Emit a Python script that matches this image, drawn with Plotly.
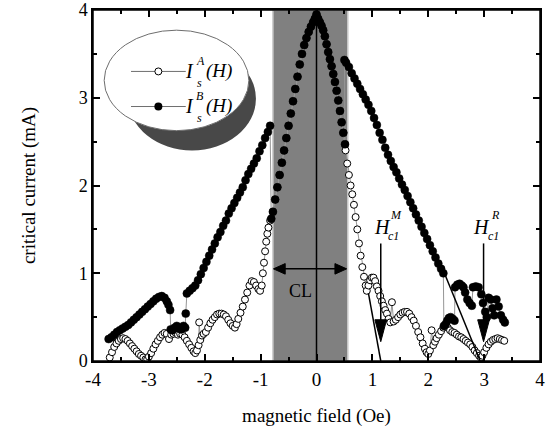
import plotly.graph_objects as go

# --- data ----------------------------------------------------------------
# shared part of both curves inside the CL band (I_s^A is hidden under I_s^B there)
peak_x = [-0.81, -0.78, -0.74, -0.70, -0.66, -0.62, -0.58, -0.54, -0.50, -0.46, -0.42,
          -0.38, -0.34, -0.30, -0.26, -0.22, -0.18, -0.14, -0.10, -0.06, -0.03, 0.00,
          0.03, 0.06, 0.09, 0.12, 0.15, 0.18, 0.21, 0.24, 0.27, 0.30, 0.33, 0.36, 0.39,
          0.42, 0.45, 0.48, 0.51]
peak_y = [1.62, 1.70, 1.84, 1.98, 2.12, 2.26, 2.40, 2.54, 2.68, 2.82, 2.96,
          3.10, 3.24, 3.38, 3.50, 3.60, 3.68, 3.75, 3.81, 3.86, 3.90, 3.95,
          3.90, 3.86, 3.82, 3.77, 3.70, 3.61, 3.52, 3.44, 3.36, 3.27, 3.18, 3.08, 2.97,
          2.85, 2.72, 2.60, 2.47]

a_left_x = [-3.70, -3.66, -3.62, -3.58, -3.54, -3.50, -3.46, -3.42, -3.38, -3.34, -3.30,
            -3.26, -3.22, -3.18, -3.14, -3.10, -3.06, -3.03, -3.00, -2.96, -2.92, -2.88,
            -2.84, -2.80, -2.76, -2.72, -2.68, -2.64, -2.60, -2.56, -2.52, -2.48, -2.44,
            -2.40, -2.36, -2.32, -2.28, -2.24, -2.20, -2.17, -2.14, -2.11, -2.10, -2.08,
            -2.05, -2.02, -1.98, -1.94, -1.90, -1.86, -1.82, -1.78, -1.74, -1.70, -1.66,
            -1.62, -1.58, -1.54, -1.50, -1.46, -1.43, -1.40, -1.36, -1.32, -1.28, -1.24,
            -1.20, -1.16, -1.12, -1.08, -1.04, -1.01, -0.98, -0.96, -0.94, -0.92, -0.90,
            -0.88, -0.86, -0.83]
a_left_y = [0.04, 0.10, 0.16, 0.20, 0.23, 0.25, 0.26, 0.25, 0.23, 0.20, 0.17,
            0.14, 0.11, 0.08, 0.06, 0.04, 0.02, 0.02, 0.05, 0.09, 0.14, 0.19,
            0.23, 0.27, 0.30, 0.32, 0.31, 0.25, 0.30, 0.31, 0.32, 0.30, 0.31,
            0.30, 0.27, 0.23, 0.19, 0.15, 0.11, 0.09, 0.12, 0.18, 0.44, 0.24,
            0.29, 0.31, 0.33, 0.38, 0.43, 0.47, 0.50, 0.53, 0.54, 0.54, 0.53,
            0.51, 0.47, 0.43, 0.40, 0.38, 0.42, 0.48, 0.55, 0.62, 0.70, 0.78,
            0.86, 0.91, 0.90, 0.86, 0.82, 0.80, 0.86, 1.00, 1.12, 1.25, 1.36,
            1.45, 1.52, 1.60]
a_right_x = [0.52, 0.55, 0.58, 0.61, 0.64, 0.67, 0.70, 0.73, 0.76, 0.79, 0.82, 0.85,
             0.88, 0.90, 0.93, 0.96, 0.99, 1.02, 1.05, 1.08, 1.11, 1.14, 1.17, 1.20,
             1.23, 1.26, 1.29, 1.32, 1.35, 1.38, 1.42, 1.46, 1.50, 1.54, 1.58, 1.62,
             1.66, 1.70, 1.74, 1.78, 1.82, 1.86, 1.90, 1.94, 1.97, 2.00, 2.03, 2.06,
             2.09, 2.12, 2.15, 2.19, 2.23, 2.27, 2.31, 2.35, 2.39, 2.43, 2.47, 2.51,
             2.55, 2.59, 2.63, 2.67, 2.71, 2.75, 2.79, 2.83, 2.87, 2.91, 2.94, 2.97,
             3.00, 3.04, 3.08, 3.12, 3.16, 3.20, 3.24, 3.28, 3.32, 3.36]
a_right_y = [2.40, 2.25, 2.12, 2.00, 1.90, 1.78, 1.64, 1.50, 1.34, 1.20, 1.07, 0.96,
             0.86, 0.80, 0.86, 0.92, 0.95, 0.95, 0.91, 0.85, 0.80, 0.74, 0.68, 0.63,
             0.58, 0.54, 0.48, 0.44, 0.67, 0.45, 0.47, 0.50, 0.53, 0.55, 0.56, 0.56,
             0.54, 0.50, 0.46, 0.40, 0.33, 0.27, 0.20, 0.14, 0.10, 0.08, 0.12, 0.35,
             0.18, 0.22, 0.26, 0.30, 0.34, 0.38, 0.40, 0.38, 0.35, 0.33, 0.32, 0.30,
             0.28, 0.27, 0.25, 0.23, 0.21, 0.19, 0.16, 0.12, 0.09, 0.06, 0.04, 0.06,
             0.10, 0.15, 0.19, 0.22, 0.24, 0.25, 0.26, 0.25, 0.24, 0.23]

b_left_x = [-3.72, -3.67, -3.62, -3.57, -3.52, -3.47, -3.42, -3.37, -3.32, -3.27, -3.22,
            -3.17, -3.12, -3.07, -3.02, -2.97, -2.92, -2.87, -2.82, -2.77, -2.72, -2.68,
            -2.65, -2.62, -2.61, -2.58, -2.54, -2.50, -2.46, -2.42, -2.38, -2.35, -2.34,
            -2.32, -2.27, -2.22, -2.17, -2.12, -2.07, -2.02, -1.97, -1.92, -1.87, -1.82,
            -1.77, -1.72, -1.67, -1.62, -1.57, -1.52, -1.47, -1.42, -1.37, -1.32, -1.27,
            -1.22, -1.17, -1.12, -1.07, -1.02, -0.97, -0.92, -0.87, -0.83]
b_left_y = [0.25, 0.27, 0.30, 0.33, 0.35, 0.37, 0.39, 0.41, 0.44, 0.47, 0.50,
            0.53, 0.56, 0.59, 0.62, 0.65, 0.68, 0.71, 0.73, 0.74, 0.72, 0.68,
            0.64, 0.58, 0.36, 0.35, 0.38, 0.40, 0.37, 0.36, 0.40, 0.38, 0.54,
            0.77, 0.80, 0.83, 0.86, 0.92, 0.99, 1.06, 1.13, 1.20, 1.27, 1.34,
            1.41, 1.47, 1.54, 1.60, 1.68, 1.74, 1.80, 1.86, 1.92, 1.98, 2.06,
            2.13, 2.19, 2.25, 2.31, 2.39, 2.46, 2.54, 2.61, 2.68]
b_right_x = [0.50, 0.53, 0.58, 0.63, 0.68, 0.73, 0.78, 0.83, 0.88, 0.93, 0.98, 1.03,
             1.08, 1.13, 1.18, 1.23, 1.28, 1.33, 1.38, 1.43, 1.48, 1.53, 1.58, 1.63,
             1.68, 1.73, 1.78, 1.83, 1.88, 1.93, 1.98, 2.03, 2.08, 2.13, 2.18, 2.23,
             2.27, 2.28, 2.31, 2.34, 2.37, 2.40, 2.44, 2.47, 2.48, 2.52, 2.56, 2.60,
             2.63, 2.66, 2.70, 2.74, 2.78, 2.80, 2.85, 2.90, 2.95, 2.98, 3.02, 3.05,
             3.08, 3.12, 3.15, 3.18, 3.22, 3.26, 3.30, 3.34, 3.37]
b_right_y = [3.43, 3.40, 3.35, 3.28, 3.22, 3.16, 3.10, 3.04, 2.98, 2.92, 2.85, 2.77,
             2.69, 2.60, 2.52, 2.43, 2.35, 2.28, 2.21, 2.15, 2.08, 2.01, 1.95, 1.88,
             1.81, 1.74, 1.67, 1.60, 1.53, 1.46, 1.39, 1.32, 1.25, 1.18, 1.11, 1.05,
             1.00, 0.40, 0.42, 0.46, 0.49, 0.50, 0.48, 0.46, 0.84, 0.87, 0.88, 0.86,
             0.84, 0.78, 0.70, 0.66, 0.63, 0.84, 0.85, 0.84, 0.76, 0.66, 0.56, 0.50,
             0.72, 0.70, 0.60, 0.52, 0.70, 0.62, 0.52, 0.47, 0.44]

a_x = a_left_x + peak_x + a_right_x
a_y = a_left_y + peak_y + a_right_y
b_x = b_left_x + peak_x + b_right_x
b_y = b_left_y + peak_y + b_right_y

# CL band and the two H_c1 fits / arrows
band = [-0.78, 0.56]
fit_m = ([0.93, 1.15], [0.77, 0.0])
fit_r = ([2.29, 2.93], [1.0, 0.0])
arrow_x = [1.15, 2.99]

x_ticks = [-4, -3, -2, -1, 0, 1, 2, 3, 4]
y_ticks = [0, 1, 2, 3, 4]

serif = "Liberation Serif"

fig = go.Figure()

fig.add_trace(go.Scatter(x=a_x, y=a_y, mode='lines+markers', showlegend=False,
                         line=dict(color='rgb(150,150,150)', width=1),
                         marker=dict(symbol='circle', size=7, color='white',
                                     line=dict(color='black', width=1))))
fig.add_trace(go.Scatter(x=b_x, y=b_y, mode='lines+markers', showlegend=False,
                         line=dict(color='rgb(150,150,150)', width=1),
                         marker=dict(symbol='circle', size=8, color='black',
                                     line=dict(color='black', width=0.5))))

# legend samples
fig.add_trace(go.Scatter(x=[-3.32, -2.83, -2.34], y=[3.30] * 3, mode='lines', showlegend=False,
                         line=dict(color='rgb(110,110,110)', width=1)))
fig.add_trace(go.Scatter(x=[-2.83], y=[3.30], mode='markers', showlegend=False,
                         marker=dict(size=7, color='white', line=dict(color='black', width=1))))
fig.add_trace(go.Scatter(x=[-3.32, -2.83, -2.34], y=[2.90] * 3, mode='lines', showlegend=False,
                         line=dict(color='rgb(110,110,110)', width=1)))
fig.add_trace(go.Scatter(x=[-2.83], y=[2.90], mode='markers', showlegend=False,
                         marker=dict(size=8, color='black')))

shapes = [
    dict(type='rect', x0=band[0], x1=band[1], y0=0, y1=4, layer='below',
         fillcolor='rgb(128,128,128)', line=dict(color='rgb(200,200,200)', width=1.5)),
    dict(type='line', x0=0, x1=0, y0=0, y1=4, layer='below',
         line=dict(color='black', width=1.5)),
    # legend disc: shadow then face
    dict(type='circle', x0=-3.37, x1=-1.084, y0=2.40, y1=3.58, layer='below',
         fillcolor='rgb(72,72,72)', line=dict(width=0)),
    dict(type='circle', x0=-3.80, x1=-1.21, y0=2.625, y1=3.77, layer='below',
         fillcolor='white', line=dict(color='rgb(110,110,110)', width=1)),
    # fit lines
    dict(type='line', x0=fit_m[0][0], x1=fit_m[0][1], y0=fit_m[1][0], y1=fit_m[1][1],
         line=dict(color='black', width=1.5)),
    dict(type='line', x0=fit_r[0][0], x1=fit_r[0][1], y0=fit_r[1][0], y1=fit_r[1][1],
         line=dict(color='black', width=1.5)),
    # CL double arrow
    dict(type='line', x0=band[0] + 0.1, x1=band[1] - 0.1, y0=1.05, y1=1.05,
         line=dict(color='black', width=1.5)),
    dict(type='path', path=f'M {band[0]+0.01},1.05 L {band[0]+0.22},1.11 L {band[0]+0.22},0.99 Z',
         fillcolor='black', line=dict(color='black', width=1)),
    dict(type='path', path=f'M {band[1]-0.02},1.05 L {band[1]-0.23},1.11 L {band[1]-0.23},0.99 Z',
         fillcolor='black', line=dict(color='black', width=1)),
    # frame
    dict(type='rect', xref='paper', yref='paper', x0=0, x1=1, y0=0, y1=1,
         line=dict(color='black', width=1.5)),
]
for ax in arrow_x:
    shapes.append(dict(type='line', x0=ax, x1=ax, y0=1.34, y1=0.45,
                       line=dict(color='black', width=1.5)))
    shapes.append(dict(type='path', path=f'M {ax-0.105},0.47 L {ax+0.105},0.47 L {ax},0.22 Z',
                       fillcolor='black', line=dict(color='black', width=1)))

annotations = []


def txt(x, y, s, size):
    annotations.append(dict(x=x, y=y, xref='x', yref='y', text=s, showarrow=False,
                            font=dict(family=serif, size=size, color='black')))


for dy, sup in [(0.0, 'A'), (-0.40, 'B')]:
    txt(-2.28, 3.31 + dy, '<i>I</i>', 20)
    txt(-2.08, 3.42 + dy, '<i>%s</i>' % sup, 12)
    txt(-2.10, 3.17 + dy, '<i>s</i>', 12)
    txt(-1.74, 3.31 + dy, '<i>(H)</i>', 19)

for hx, sup in [(1.18, 'M'), (2.96, 'R')]:
    txt(hx, 1.53, '<i>H</i>', 20)
    txt(hx + 0.24, 1.66, '<i>%s</i>' % sup, 12)
    txt(hx + 0.20, 1.43, '<i>c1</i>', 12)

txt(-0.29, 0.80, 'CL', 18)

axis_common = dict(showgrid=False, zeroline=False, automargin=False,
                   showline=True, linecolor='black', linewidth=1.5, mirror='allticks',
                   ticks='inside', ticklen=7, tickwidth=1.5, tickcolor='black',
                   minor=dict(dtick=0.5, ticks='inside', ticklen=4, tickwidth=1.5,
                              tickcolor='black'))

fig.update_layout(
    width=556, height=441,
    margin=dict(l=93, r=16, t=10, b=80),
    plot_bgcolor='white', paper_bgcolor='white',
    font=dict(family=serif, size=18, color='black'),
    shapes=shapes, annotations=annotations,
    xaxis=dict(axis_common, range=[-4, 4], tickvals=x_ticks,
               ticktext=['-4', '-3', '-2', '-1', '0', '1', '2', '3', '4'],
               tickfont=dict(family=serif, size=19, color='black'),
               title=dict(text='magnetic field (Oe)',
                          font=dict(family=serif, size=19), standoff=20)),
    yaxis=dict(axis_common, range=[0, 4], tickvals=y_ticks,
               tickfont=dict(family=serif, size=18, color='black'),
               title=dict(text='critical current (mA)',
                          font=dict(family=serif, size=19), standoff=38)),
)

fig.write_html("out.html", config={'displayModeBar': False},
               post_script="document.body.style.margin='0';")
